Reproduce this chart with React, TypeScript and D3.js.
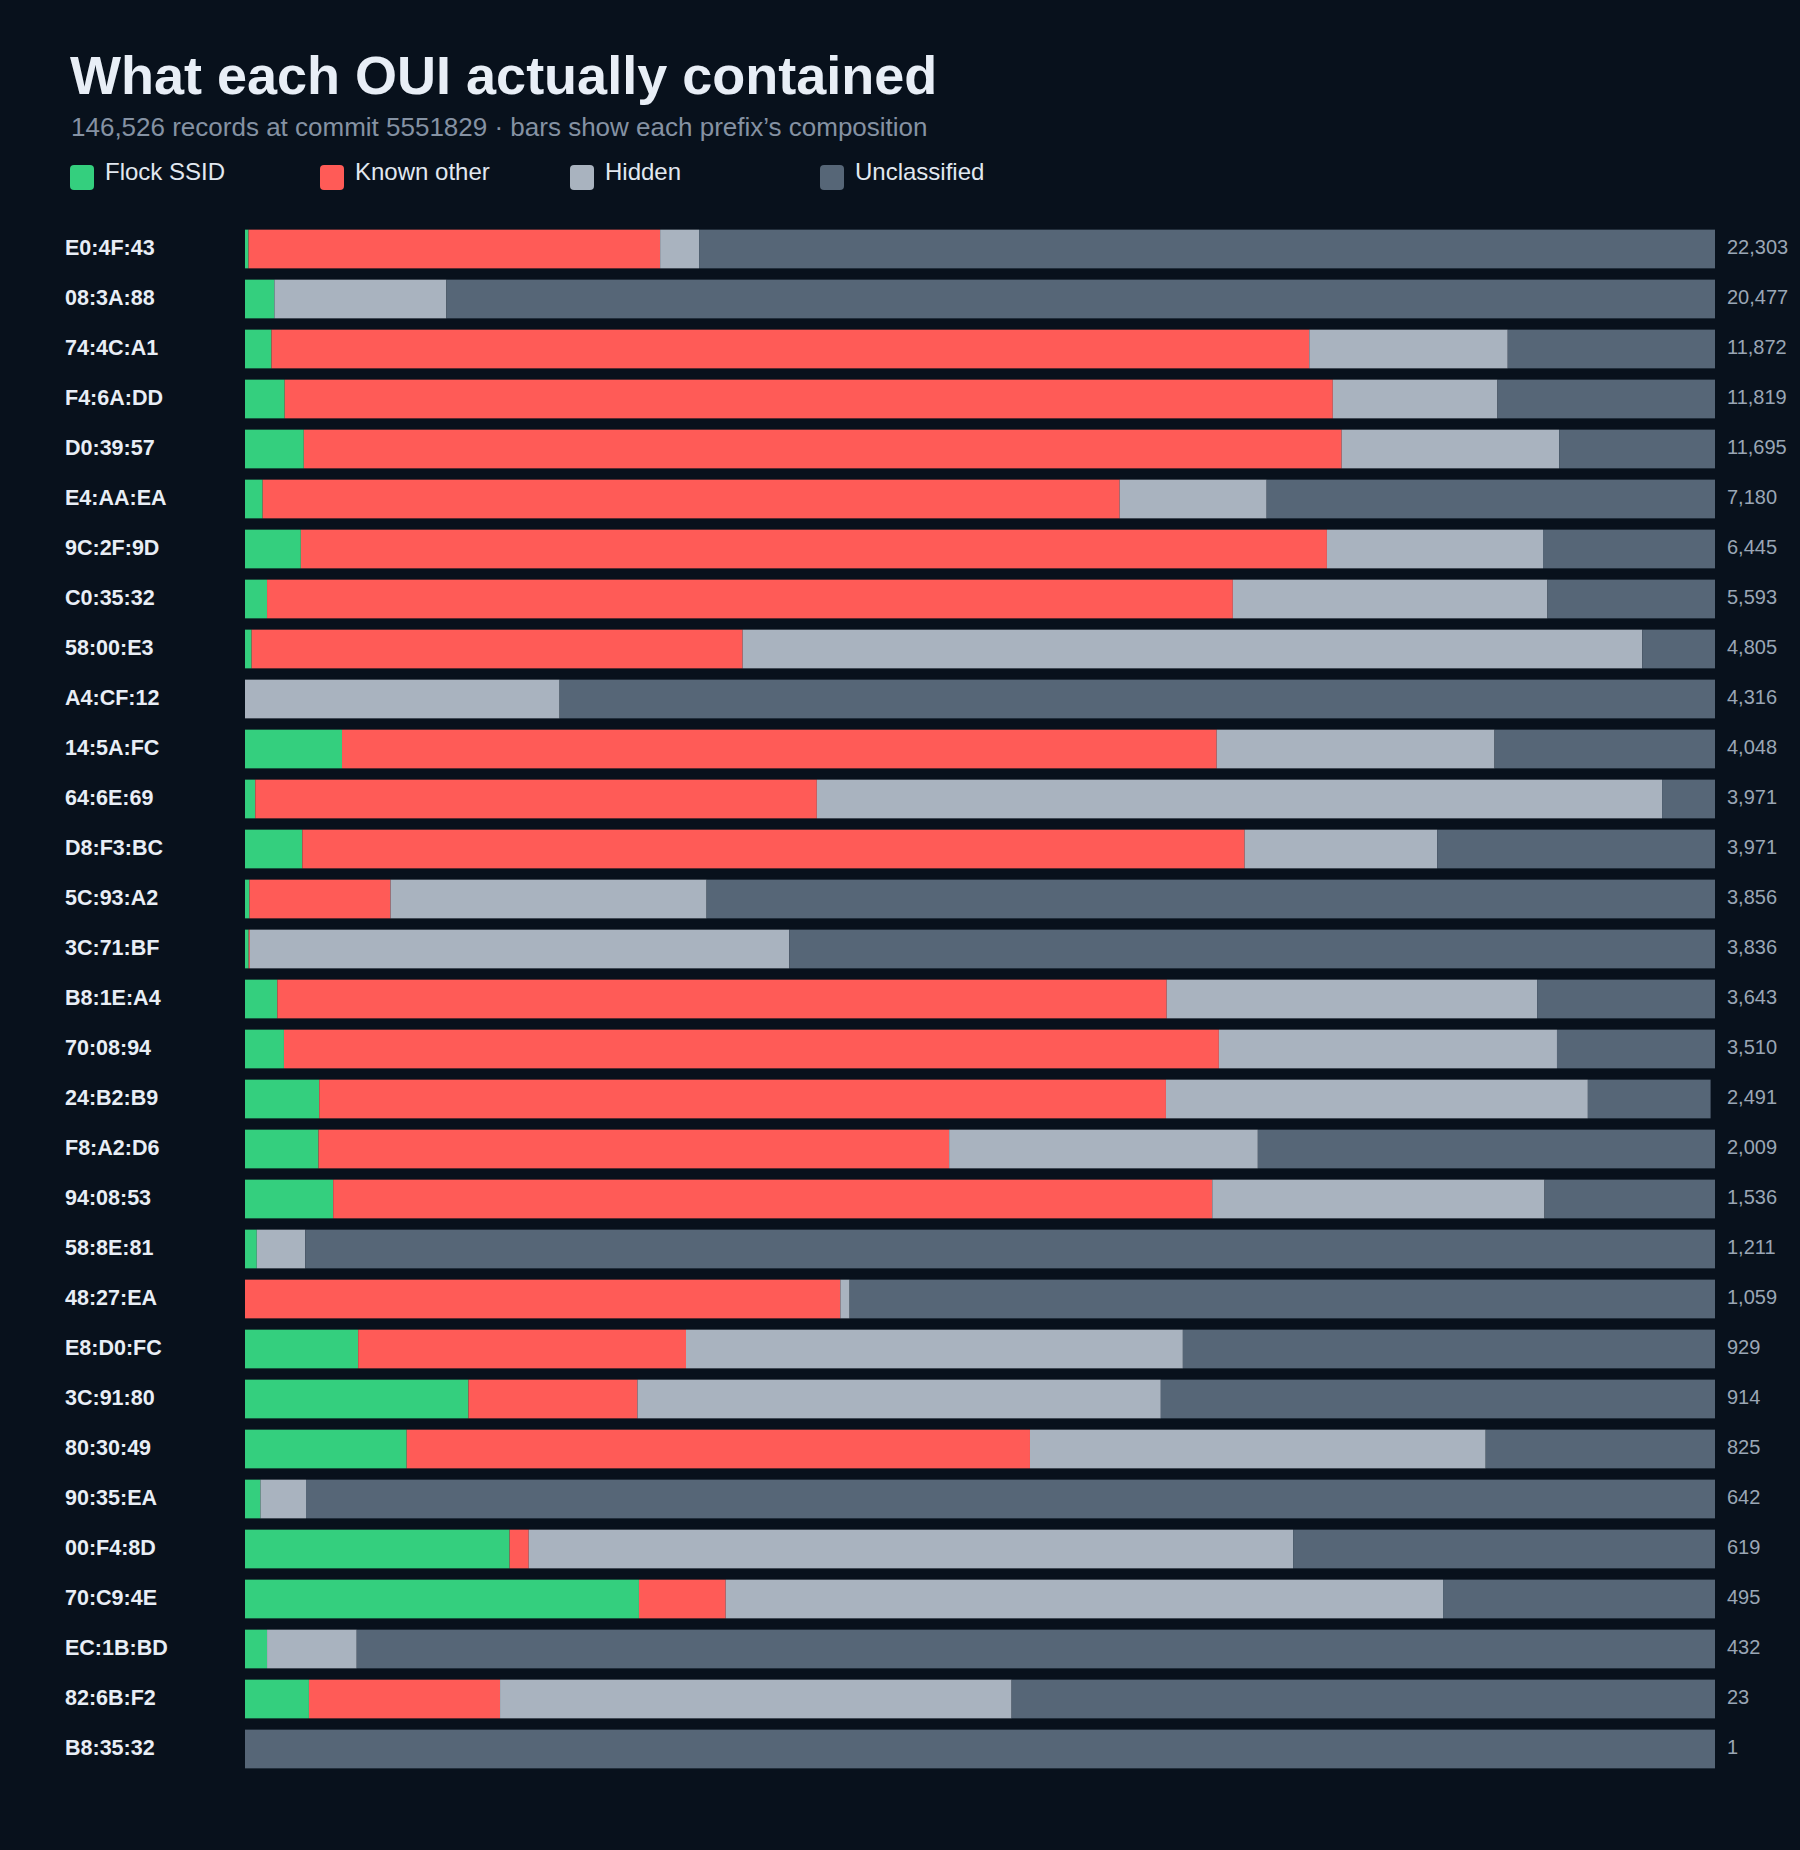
import React, { useEffect, useRef } from 'react';
import * as d3 from 'd3';

// OUI prefixes, top to bottom
const prefixes = [
  'E0:4F:43', '08:3A:88', '74:4C:A1', 'F4:6A:DD', 'D0:39:57', 'E4:AA:EA', '9C:2F:9D', 'C0:35:32',
  '58:00:E3', 'A4:CF:12', '14:5A:FC', '64:6E:69', 'D8:F3:BC', '5C:93:A2', '3C:71:BF', 'B8:1E:A4',
  '70:08:94', '24:B2:B9', 'F8:A2:D6', '94:08:53', '58:8E:81', '48:27:EA', 'E8:D0:FC', '3C:91:80',
  '80:30:49', '90:35:EA', '00:F4:8D', '70:C9:4E', 'EC:1B:BD', '82:6B:F2', 'B8:35:32',
];

// total records per prefix
const totals = [
  22303, 20477, 11872, 11819, 11695, 7180, 6445, 5593,
  4805, 4316, 4048, 3971, 3971, 3856, 3836, 3643,
  3510, 2491, 2009, 1536, 1211, 1059, 929, 914,
  825, 642, 619, 495, 432, 23, 1,
];

// composition, % of each prefix
const flockPct = [
  0.24, 2.0, 1.8, 2.7, 4.0, 1.2, 3.8, 1.5,
  0.45, 0, 6.6, 0.7, 3.9, 0.3, 0.25, 2.2,
  2.65, 5.05, 5.0, 6.0, 0.8, 0, 7.7, 15.2,
  11.0, 1.05, 18.0, 26.8, 1.5, 4.35, 0,
];
const knownPct = [
  28.0, 0, 70.6, 71.3, 70.6, 58.3, 69.8, 65.7,
  33.4, 0, 59.5, 38.2, 64.1, 9.6, 0.08, 60.5,
  63.6, 57.6, 42.9, 59.8, 0, 40.5, 22.3, 11.5,
  42.4, 0, 1.3, 5.9, 0, 13.0, 0,
];
const hiddenPct = [
  2.65, 11.7, 13.5, 11.2, 14.8, 10.0, 14.7, 21.4,
  61.2, 21.4, 18.9, 57.5, 13.1, 21.5, 36.7, 25.2,
  23.0, 28.7, 21.0, 22.6, 3.3, 0.63, 33.8, 35.6,
  31.0, 3.1, 52.0, 48.8, 6.1, 34.8, 0,
];
const unclassPct = [
  69.11, 86.3, 14.1, 14.8, 10.6, 30.5, 11.7, 11.4,
  4.95, 78.6, 15.0, 3.6, 18.9, 68.6, 62.97, 12.1,
  10.75, 8.35, 31.1, 11.6, 95.9, 58.87, 36.2, 37.7,
  15.6, 95.85, 28.7, 18.5, 92.4, 47.85, 100,
];

const seriesKeys = ['flock', 'known', 'hidden', 'unclass'];
const seriesNames = ['Flock SSID', 'Known other', 'Hidden', 'Unclassified'];
const seriesColors = ['#34cf7e', '#ff5b57', '#a9b3bf', '#566677'];

const W = 1800;
const H = 1850;

const App: React.FC = () => {
  const svgRef = useRef<SVGSVGElement>(null);

  useEffect(() => {
    document.body.style.margin = '0';
    document.body.style.background = '#08111c';
    if (!svgRef.current) return;

    const svg = d3.select(svgRef.current);
    svg.selectAll('*').remove();
    const font = '"Liberation Sans", Arial, sans-serif';

    svg.append('rect').attr('width', W).attr('height', H).attr('fill', '#08111c');

    svg.append('text')
      .attr('x', 70).attr('y', 94)
      .attr('fill', '#e8eef6')
      .style('font-family', font).style('font-size', '54px').style('font-weight', '700')
      .text('What each OUI actually contained');

    svg.append('text')
      .attr('x', 71).attr('y', 136)
      .attr('fill', '#8592a3')
      .style('font-family', font).style('font-size', '26px')
      .text('146,526 records at commit 5551829 \u00b7 bars show each prefix\u2019s composition');

    // Legend
    const legend = svg.append('g').attr('transform', 'translate(70,165)');
    seriesNames.forEach((name, i) => {
      const g = legend.append('g').attr('transform', `translate(${i * 250},0)`);
      g.append('rect').attr('width', 24).attr('height', 25).attr('rx', 4).attr('fill', seriesColors[i]);
      g.append('text')
        .attr('x', 35).attr('y', 15)
        .attr('fill', '#e1e8f0')
        .style('font-family', font).style('font-size', '24px')
        .text(name);
    });

    const rows = prefixes.map((p, i) => ({
      prefix: p,
      total: totals[i],
      flock: flockPct[i],
      known: knownPct[i],
      hidden: hiddenPct[i],
      unclass: unclassPct[i],
    }));

    const x = d3.scaleLinear().domain([0, 100]).range([245, 1715]);
    const y = d3.scaleBand<string>()
      .domain(prefixes)
      .range([224, 224 + prefixes.length * 50])
      .paddingInner(0.226)
      .paddingOuter(0.113);

    const stack = d3.stack<any>().keys(seriesKeys);
    const layers = stack(rows);

    svg.append('g')
      .selectAll('g')
      .data(layers)
      .enter().append('g')
      .attr('fill', (_d, i) => seriesColors[i])
      .selectAll('rect')
      .data(d => d)
      .enter().append('rect')
      .attr('x', d => x(d[0]))
      .attr('y', d => y(d.data.prefix)!)
      .attr('width', d => Math.max(0, x(d[1]) - x(d[0])))
      .attr('height', y.bandwidth());

    // Row labels
    svg.append('g')
      .selectAll('text')
      .data(rows)
      .enter().append('text')
      .attr('x', 65)
      .attr('y', d => y(d.prefix)! + y.bandwidth() / 2 - 2)
      .attr('dy', '0.35em')
      .attr('fill', '#e8eef6')
      .style('font-family', font).style('font-size', '21.5px').style('font-weight', '700')
      .text(d => d.prefix);

    // Totals
    svg.append('g')
      .selectAll('text')
      .data(rows)
      .enter().append('text')
      .attr('x', 1727)
      .attr('y', d => y(d.prefix)! + y.bandwidth() / 2 - 2)
      .attr('dy', '0.35em')
      .attr('fill', '#9aa6b5')
      .style('font-family', font).style('font-size', '20px')
      .text(d => d3.format(',')(d.total));
  }, []);

  return <svg ref={svgRef} width={W} height={H} style={{ display: 'block' }}></svg>;
};

export default App;
